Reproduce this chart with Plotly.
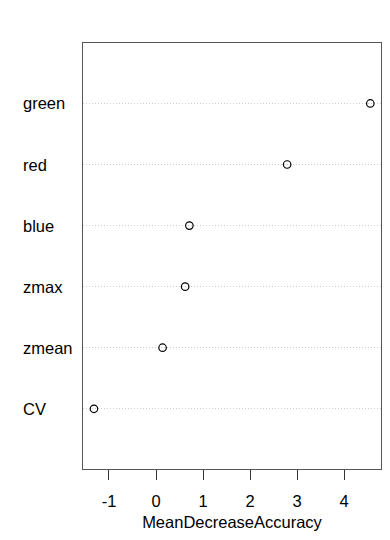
import plotly.graph_objects as go

# Variable importance from the random forest (bottom to top)
variables = ["CV", "zmean", "zmax", "blue", "red", "green"]
mean_decrease_accuracy = [-1.32, 0.14, 0.62, 0.71, 2.79, 4.56]
x_ticks = [-1, 0, 1, 2, 3, 4]

positions = list(range(1, len(variables) + 1))
font_family = "Liberation Sans, Arial, sans-serif"

fig = go.Figure()
fig.add_trace(go.Scatter(
    x=mean_decrease_accuracy,
    y=positions,
    mode="markers",
    marker=dict(symbol="circle-open", size=7.5, color="black",
                line=dict(width=1.2, color="black")),
    showlegend=False,
    hoverinfo="x+text",
    text=variables,
))

# Left-aligned variable names
plot_left, plot_width = 83, 298
for name, pos in zip(variables, positions):
    fig.add_annotation(
        x=(21 - plot_left) / plot_width, xref="paper", xanchor="left",
        y=pos, yref="y", yanchor="middle",
        text=name, showarrow=False,
        font=dict(family=font_family, size=16.5, color="black"),
    )

fig.update_layout(
    width=390, height=540,
    margin=dict(l=plot_left, r=9, t=43, b=71),
    paper_bgcolor="white", plot_bgcolor="white",
    font=dict(family=font_family, size=16.5, color="black"),
)
fig.update_xaxes(
    range=[-1.553, 4.787],
    tickvals=x_ticks, ticktext=[str(t) for t in x_ticks],
    ticks="outside", ticklen=10, tickwidth=1, tickcolor="#333",
    ticklabelstandoff=7,
    showgrid=False, zeroline=False,
    showline=True, mirror=True, linecolor="#555", linewidth=1,
    title=dict(text="MeanDecreaseAccuracy", standoff=7,
               font=dict(family=font_family, size=16.5, color="black")),
)
fig.update_yaxes(
    range=[0.014, 6.99],
    tickvals=positions, showticklabels=False, ticks="",
    showgrid=True, gridcolor="#cccccc", griddash="1px,2px", gridwidth=1,
    zeroline=False,
    showline=True, mirror=True, linecolor="#555", linewidth=1,
)

fig.write_html("out.html")
